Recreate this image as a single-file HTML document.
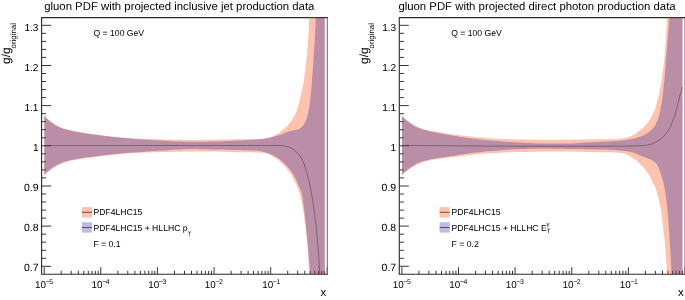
<!DOCTYPE html>
<html><head><meta charset="utf-8"><title>gluon PDF</title>
<style>
html,body{margin:0;padding:0;background:#fff;}
body{width:685px;height:300px;overflow:hidden;}
svg{display:block;font-family:"Liberation Sans",sans-serif;fill:#000;text-rendering:geometricPrecision;}
</style></head><body>
<svg width="685" height="300" viewBox="0 0 685 300">
<rect x="0" y="0" width="685" height="300" fill="#fff"/>
<g transform="translate(0.0,0)">
<path d="M41.6,266.3 h9.5 M41.6,258.3 h4.6 M41.6,250.3 h4.6 M41.6,242.2 h4.6 M41.6,234.2 h4.6 M41.6,226.1 h9.5 M41.6,218.1 h4.6 M41.6,210.1 h4.6 M41.6,202.0 h4.6 M41.6,194.0 h4.6 M41.6,186.0 h9.5 M41.6,177.9 h4.6 M41.6,169.9 h4.6 M41.6,161.9 h4.6 M41.6,153.8 h4.6 M41.6,145.8 h9.5 M41.6,137.8 h4.6 M41.6,129.7 h4.6 M41.6,121.7 h4.6 M41.6,113.7 h4.6 M41.6,105.6 h9.5 M41.6,97.6 h4.6 M41.6,89.6 h4.6 M41.6,81.5 h4.6 M41.6,73.5 h4.6 M41.6,65.5 h9.5 M41.6,57.4 h4.6 M41.6,49.4 h4.6 M41.6,41.4 h4.6 M41.6,33.3 h4.6 M41.6,25.3 h9.5 M44.2,274.2 v-7.0 M61.2,274.2 v-3.4 M71.2,274.2 v-3.4 M78.3,274.2 v-3.4 M83.8,274.2 v-3.4 M88.3,274.2 v-3.4 M92.0,274.2 v-3.4 M95.3,274.2 v-3.4 M98.2,274.2 v-3.4 M100.8,274.2 v-7.0 M117.9,274.2 v-3.4 M127.8,274.2 v-3.4 M134.9,274.2 v-3.4 M140.4,274.2 v-3.4 M144.9,274.2 v-3.4 M148.7,274.2 v-3.4 M152.0,274.2 v-3.4 M154.8,274.2 v-3.4 M157.4,274.2 v-7.0 M174.5,274.2 v-3.4 M184.5,274.2 v-3.4 M191.5,274.2 v-3.4 M197.0,274.2 v-3.4 M201.5,274.2 v-3.4 M205.3,274.2 v-3.4 M208.6,274.2 v-3.4 M211.5,274.2 v-3.4 M214.1,274.2 v-7.0 M231.1,274.2 v-3.4 M241.1,274.2 v-3.4 M248.1,274.2 v-3.4 M253.6,274.2 v-3.4 M258.1,274.2 v-3.4 M261.9,274.2 v-3.4 M265.2,274.2 v-3.4 M268.1,274.2 v-3.4 M270.7,274.2 v-7.0 M287.7,274.2 v-3.4 M297.7,274.2 v-3.4 M304.8,274.2 v-3.4 M310.3,274.2 v-3.4 M314.7,274.2 v-3.4 M318.5,274.2 v-3.4 M321.8,274.2 v-3.4 M324.7,274.2 v-3.4 M327.3,274.2 v-7.0" stroke="#2a2a2a" stroke-width="0.95" fill="none"/>
<path d="M41.6,17.6 V274.2 H327.3 M41.6,17.6 H327.3" fill="none" stroke="#2a2a2a" stroke-width="1.1" stroke-linecap="square"/>
<path d="M327.3,17.6 V274.2" fill="none" stroke="#666" stroke-width="1"/>
<path d="M44.2,115.4 L44.8,116.1 L45.4,116.8 L46.1,117.4 L46.7,118.0 L47.4,118.7 L48.1,119.3 L48.8,119.8 L49.5,120.4 L50.2,121.0 L50.9,121.5 L51.7,122.1 L52.4,122.6 L53.2,123.1 L53.9,123.6 L54.7,124.1 L55.5,124.6 L56.3,125.1 L57.1,125.6 L57.9,126.0 L58.7,126.4 L59.5,126.8 L60.3,127.1 L61.2,127.5 L62.0,127.8 L62.9,128.1 L63.7,128.4 L64.6,128.7 L65.5,129.0 L66.4,129.2 L67.2,129.5 L68.1,129.7 L69.0,129.9 L69.9,130.1 L70.8,130.3 L71.7,130.5 L72.6,130.7 L73.5,130.9 L74.4,131.1 L75.3,131.2 L76.2,131.4 L77.1,131.6 L78.0,131.7 L78.9,131.9 L79.8,132.0 L80.7,132.2 L81.6,132.3 L82.5,132.5 L83.4,132.6 L84.3,132.8 L85.2,132.9 L86.1,133.1 L87.0,133.2 L87.9,133.4 L88.8,133.5 L89.7,133.6 L90.6,133.7 L91.5,133.9 L92.4,134.0 L93.3,134.1 L94.2,134.3 L95.1,134.4 L96.0,134.5 L96.9,134.6 L97.8,134.7 L98.7,134.9 L99.6,135.0 L100.5,135.1 L101.4,135.2 L102.3,135.3 L103.2,135.4 L104.1,135.6 L105.0,135.7 L106.0,135.8 L106.9,135.9 L107.8,136.0 L108.7,136.1 L109.6,136.2 L110.5,136.3 L111.4,136.4 L112.3,136.5 L113.2,136.6 L114.1,136.7 L115.0,136.8 L115.9,136.9 L116.8,136.9 L117.7,137.0 L118.7,137.1 L119.6,137.2 L120.5,137.3 L121.4,137.4 L122.3,137.4 L123.2,137.5 L124.1,137.6 L125.0,137.7 L125.9,137.7 L126.8,137.8 L127.7,137.9 L128.7,138.0 L129.6,138.0 L130.5,138.1 L131.4,138.2 L132.3,138.2 L133.2,138.3 L134.1,138.4 L135.0,138.4 L135.9,138.5 L136.8,138.5 L137.8,138.6 L138.7,138.6 L139.6,138.7 L140.5,138.7 L141.4,138.8 L142.3,138.8 L143.2,138.8 L144.1,138.9 L145.0,138.9 L146.0,138.9 L146.9,139.0 L147.8,139.0 L148.7,139.0 L149.6,139.1 L150.5,139.1 L151.4,139.1 L152.3,139.2 L153.3,139.2 L154.2,139.2 L155.1,139.3 L156.0,139.3 L156.9,139.3 L157.8,139.3 L158.7,139.4 L159.6,139.4 L160.6,139.4 L161.5,139.4 L162.4,139.4 L163.3,139.5 L164.2,139.5 L165.1,139.5 L166.0,139.5 L166.9,139.5 L167.9,139.6 L168.8,139.6 L169.7,139.6 L170.6,139.6 L171.5,139.6 L172.4,139.7 L173.3,139.7 L174.2,139.7 L175.1,139.7 L176.1,139.7 L177.0,139.8 L177.9,139.8 L178.8,139.8 L179.7,139.8 L180.6,139.8 L181.5,139.8 L182.4,139.8 L183.4,139.9 L184.3,139.9 L185.2,139.9 L186.1,139.9 L187.0,139.9 L187.9,139.9 L188.8,139.9 L189.7,139.9 L190.7,139.9 L191.6,139.9 L192.5,139.9 L193.4,139.9 L194.3,139.9 L195.2,139.9 L196.1,139.9 L197.0,139.9 L198.0,139.9 L198.9,139.9 L199.8,139.9 L200.7,139.8 L201.6,139.8 L202.5,139.8 L203.4,139.8 L204.3,139.8 L205.3,139.8 L206.2,139.8 L207.1,139.8 L208.0,139.8 L208.9,139.7 L209.8,139.7 L210.7,139.7 L211.6,139.7 L212.6,139.7 L213.5,139.7 L214.4,139.7 L215.3,139.7 L216.2,139.7 L217.1,139.6 L218.0,139.6 L218.9,139.6 L219.9,139.6 L220.8,139.6 L221.7,139.5 L222.6,139.5 L223.5,139.5 L224.4,139.5 L225.3,139.5 L226.2,139.4 L227.2,139.4 L228.1,139.4 L229.0,139.4 L229.9,139.4 L230.8,139.3 L231.7,139.3 L232.6,139.3 L233.5,139.3 L234.4,139.3 L235.4,139.3 L236.3,139.2 L237.2,139.2 L238.1,139.2 L239.0,139.2 L239.9,139.2 L240.8,139.2 L241.7,139.2 L242.7,139.2 L243.6,139.2 L244.5,139.2 L245.4,139.2 L246.3,139.2 L247.2,139.2 L248.1,139.2 L249.1,139.2 L250.0,139.2 L250.9,139.1 L251.8,139.1 L252.7,139.1 L253.6,139.1 L254.5,139.1 L255.4,139.1 L256.3,139.1 L257.3,139.1 L258.2,139.1 L259.1,139.0 L260.0,138.9 L260.9,138.9 L261.8,138.8 L262.7,138.7 L263.6,138.5 L264.5,138.4 L265.4,138.3 L266.3,138.1 L267.2,138.0 L268.1,137.8 L269.0,137.6 L269.9,137.3 L270.8,137.1 L271.6,136.8 L272.5,136.4 L273.3,136.0 L274.1,135.6 L275.0,135.3 L275.8,134.8 L276.6,134.4 L277.4,134.0 L278.2,133.5 L278.9,133.0 L279.6,132.4 L280.3,131.8 L281.0,131.2 L281.7,130.7 L282.4,130.1 L283.2,129.5 L283.9,129.0 L284.6,128.4 L285.3,127.8 L286.0,127.2 L286.6,126.6 L287.2,125.9 L287.8,125.2 L288.4,124.5 L289.0,123.8 L289.6,123.1 L290.2,122.4 L290.8,121.7 L291.3,121.0 L291.8,120.2 L292.3,119.5 L292.8,118.7 L293.2,117.9 L293.7,117.1 L294.1,116.3 L294.5,115.5 L295.0,114.7 L295.4,113.8 L295.8,113.0 L296.1,112.2 L296.5,111.3 L296.8,110.5 L297.1,109.6 L297.4,108.8 L297.7,107.9 L298.0,107.0 L298.2,106.1 L298.5,105.3 L298.7,104.4 L298.9,103.5 L299.1,102.6 L299.4,101.7 L299.6,100.8 L299.8,100.0 L300.0,99.1 L300.2,98.2 L300.5,97.3 L300.7,96.4 L300.9,95.5 L301.1,94.6 L301.3,93.7 L301.5,92.9 L301.7,92.0 L301.9,91.1 L302.1,90.2 L302.3,89.3 L302.5,88.4 L302.7,87.5 L302.8,86.6 L303.0,85.7 L303.2,84.8 L303.3,83.9 L303.5,83.0 L303.6,82.1 L303.7,81.2 L303.9,80.3 L304.0,79.4 L304.2,78.5 L304.3,77.6 L304.4,76.7 L304.5,75.8 L304.7,74.9 L304.8,74.0 L304.9,73.1 L305.0,72.2 L305.2,71.3 L305.3,70.4 L305.4,69.5 L305.5,68.6 L305.6,67.7 L305.7,66.7 L305.8,65.8 L305.9,64.9 L306.0,64.0 L306.1,63.1 L306.2,62.2 L306.3,61.3 L306.4,60.4 L306.5,59.5 L306.6,58.6 L306.7,57.7 L306.7,56.8 L306.8,55.8 L306.9,54.9 L307.0,54.0 L307.0,53.1 L307.1,52.2 L307.2,51.3 L307.3,50.4 L307.3,49.5 L307.4,48.6 L307.5,47.7 L307.6,46.8 L307.6,45.9 L307.7,44.9 L307.8,44.0 L307.8,43.1 L307.9,42.2 L308.0,41.3 L308.0,40.4 L308.1,39.5 L308.2,38.6 L308.2,37.7 L308.3,36.8 L308.3,35.8 L308.4,34.9 L308.5,34.0 L308.5,33.1 L308.6,32.2 L308.6,31.3 L308.7,30.4 L308.7,29.5 L308.8,28.6 L308.8,27.6 L308.9,26.7 L308.9,25.8 L308.9,24.9 L309.0,24.0 L309.0,23.1 L309.1,22.2 L309.1,21.3 L309.1,20.3 L309.1,19.4 L309.2,18.5 L309.2,17.6 L324.8,17.6 L324.8,274.2 L309.3,274.2 L309.3,273.3 L309.2,272.4 L309.2,271.5 L309.1,270.6 L309.1,269.7 L309.1,268.8 L309.0,267.8 L309.0,266.9 L308.9,266.0 L308.9,265.1 L308.8,264.2 L308.7,263.3 L308.7,262.4 L308.6,261.5 L308.6,260.6 L308.5,259.7 L308.5,258.8 L308.4,257.9 L308.3,257.0 L308.3,256.1 L308.2,255.2 L308.1,254.2 L308.1,253.3 L308.0,252.4 L307.9,251.5 L307.8,250.6 L307.8,249.7 L307.7,248.8 L307.6,247.9 L307.5,247.0 L307.5,246.1 L307.4,245.2 L307.3,244.3 L307.2,243.4 L307.1,242.5 L307.0,241.6 L306.9,240.7 L306.8,239.8 L306.7,238.9 L306.6,238.0 L306.5,237.1 L306.4,236.2 L306.3,235.3 L306.2,234.4 L306.1,233.5 L306.0,232.6 L305.9,231.7 L305.8,230.8 L305.7,229.9 L305.6,228.9 L305.5,228.0 L305.4,227.1 L305.3,226.2 L305.2,225.3 L305.1,224.4 L305.0,223.5 L304.9,222.6 L304.7,221.7 L304.6,220.8 L304.5,219.9 L304.4,219.0 L304.3,218.1 L304.2,217.2 L304.1,216.3 L303.9,215.4 L303.8,214.5 L303.7,213.6 L303.6,212.7 L303.4,211.8 L303.3,210.9 L303.1,210.0 L303.0,209.1 L302.8,208.2 L302.7,207.3 L302.5,206.4 L302.4,205.6 L302.2,204.7 L302.0,203.8 L301.8,202.9 L301.7,202.0 L301.5,201.1 L301.3,200.2 L301.1,199.3 L300.9,198.4 L300.6,197.5 L300.4,196.7 L300.2,195.8 L300.0,194.9 L299.7,194.0 L299.5,193.2 L299.2,192.3 L298.9,191.4 L298.7,190.6 L298.4,189.7 L298.0,188.9 L297.7,188.0 L297.4,187.2 L297.1,186.3 L296.7,185.5 L296.3,184.6 L295.9,183.8 L295.5,183.0 L295.1,182.2 L294.6,181.4 L294.2,180.6 L293.8,179.8 L293.4,179.0 L293.0,178.2 L292.7,177.3 L292.3,176.5 L291.9,175.7 L291.4,174.9 L290.9,174.2 L290.3,173.5 L289.7,172.8 L289.2,172.1 L288.6,171.4 L288.1,170.6 L287.6,169.9 L287.1,169.1 L286.6,168.3 L286.1,167.6 L285.5,166.9 L284.8,166.3 L284.1,165.7 L283.4,165.1 L282.7,164.5 L282.0,163.9 L281.4,163.3 L280.8,162.6 L280.2,161.9 L279.6,161.2 L278.9,160.6 L278.2,160.0 L277.5,159.6 L276.7,159.1 L275.9,158.7 L275.1,158.2 L274.3,157.7 L273.6,157.2 L272.9,156.6 L272.1,156.1 L271.4,155.6 L270.6,155.2 L269.7,154.8 L268.9,154.4 L268.1,154.1 L267.2,153.8 L266.3,153.5 L265.5,153.3 L264.6,153.1 L263.7,153.0 L262.8,152.8 L261.9,152.7 L261.0,152.6 L260.1,152.6 L259.2,152.5 L258.2,152.4 L257.3,152.4 L256.4,152.4 L255.5,152.4 L254.6,152.4 L253.7,152.3 L252.8,152.3 L251.9,152.3 L251.0,152.3 L250.1,152.3 L249.2,152.3 L248.3,152.3 L247.4,152.3 L246.4,152.3 L245.5,152.3 L244.6,152.3 L243.7,152.2 L242.8,152.2 L241.9,152.2 L241.0,152.2 L240.1,152.2 L239.2,152.2 L238.3,152.2 L237.4,152.2 L236.4,152.1 L235.5,152.1 L234.6,152.1 L233.7,152.1 L232.8,152.0 L231.9,152.0 L231.0,152.0 L230.1,152.0 L229.2,151.9 L228.3,151.9 L227.4,151.9 L226.5,151.8 L225.6,151.8 L224.6,151.8 L223.7,151.8 L222.8,151.7 L221.9,151.7 L221.0,151.7 L220.1,151.7 L219.2,151.7 L218.3,151.6 L217.4,151.6 L216.5,151.6 L215.6,151.6 L214.7,151.6 L213.7,151.6 L212.8,151.6 L211.9,151.6 L211.0,151.6 L210.1,151.6 L209.2,151.6 L208.3,151.6 L207.4,151.6 L206.5,151.6 L205.6,151.6 L204.7,151.6 L203.8,151.6 L202.8,151.6 L201.9,151.6 L201.0,151.6 L200.1,151.6 L199.2,151.6 L198.3,151.6 L197.4,151.6 L196.5,151.6 L195.6,151.6 L194.7,151.6 L193.8,151.6 L192.9,151.6 L191.9,151.6 L191.0,151.6 L190.1,151.6 L189.2,151.6 L188.3,151.6 L187.4,151.6 L186.5,151.6 L185.6,151.6 L184.7,151.6 L183.8,151.6 L182.9,151.6 L182.0,151.7 L181.1,151.7 L180.1,151.7 L179.2,151.7 L178.3,151.7 L177.4,151.7 L176.5,151.8 L175.6,151.8 L174.7,151.8 L173.8,151.8 L172.9,151.8 L172.0,151.8 L171.1,151.9 L170.2,151.9 L169.2,151.9 L168.3,151.9 L167.4,151.9 L166.5,152.0 L165.6,152.0 L164.7,152.0 L163.8,152.0 L162.9,152.0 L162.0,152.1 L161.1,152.1 L160.2,152.1 L159.3,152.1 L158.3,152.2 L157.4,152.2 L156.5,152.2 L155.6,152.2 L154.7,152.3 L153.8,152.3 L152.9,152.3 L152.0,152.3 L151.1,152.4 L150.2,152.4 L149.3,152.4 L148.4,152.5 L147.5,152.5 L146.5,152.5 L145.6,152.6 L144.7,152.6 L143.8,152.6 L142.9,152.7 L142.0,152.7 L141.1,152.8 L140.2,152.8 L139.3,152.8 L138.4,152.9 L137.5,152.9 L136.6,153.0 L135.7,153.0 L134.7,153.1 L133.8,153.1 L132.9,153.2 L132.0,153.2 L131.1,153.3 L130.2,153.3 L129.3,153.4 L128.4,153.5 L127.5,153.5 L126.6,153.6 L125.7,153.7 L124.8,153.7 L123.9,153.8 L123.0,153.9 L122.1,154.0 L121.2,154.1 L120.3,154.1 L119.4,154.2 L118.5,154.3 L117.5,154.4 L116.6,154.5 L115.7,154.6 L114.8,154.7 L113.9,154.8 L113.0,154.9 L112.1,155.0 L111.2,155.1 L110.3,155.2 L109.4,155.3 L108.5,155.4 L107.6,155.5 L106.7,155.7 L105.8,155.8 L104.9,155.9 L104.0,156.0 L103.1,156.1 L102.2,156.2 L101.3,156.3 L100.4,156.4 L99.5,156.6 L98.6,156.7 L97.7,156.8 L96.8,156.9 L95.9,157.0 L95.0,157.1 L94.1,157.2 L93.2,157.3 L92.3,157.5 L91.4,157.6 L90.5,157.7 L89.6,157.8 L88.7,157.9 L87.8,158.0 L86.9,158.1 L86.0,158.2 L85.1,158.4 L84.2,158.5 L83.3,158.6 L82.4,158.7 L81.5,158.9 L80.6,159.0 L79.7,159.2 L78.8,159.3 L77.9,159.4 L77.0,159.6 L76.1,159.8 L75.2,159.9 L74.3,160.1 L73.4,160.2 L72.5,160.4 L71.6,160.6 L70.7,160.8 L69.8,161.0 L69.0,161.2 L68.1,161.4 L67.2,161.6 L66.3,161.9 L65.5,162.1 L64.6,162.4 L63.8,162.7 L62.9,163.0 L62.1,163.4 L61.2,163.7 L60.4,164.1 L59.6,164.5 L58.7,164.9 L57.9,165.3 L57.2,165.7 L56.4,166.2 L55.6,166.7 L54.8,167.1 L54.1,167.6 L53.3,168.1 L52.5,168.6 L51.8,169.2 L51.0,169.7 L50.2,170.2 L49.5,170.7 L48.8,171.2 L48.0,171.7 L47.3,172.3 L46.7,172.9 L46.0,173.5 L45.4,174.2 L44.8,174.9 L44.2,175.6Z" fill="rgba(255,102,51,0.4)"/>
<path d="M44.2,115.8 L44.8,116.5 L45.5,117.2 L46.1,117.9 L46.8,118.5 L47.5,119.2 L48.1,119.8 L48.8,120.4 L49.6,121.0 L50.3,121.7 L51.0,122.3 L51.8,122.8 L52.5,123.4 L53.3,123.9 L54.1,124.4 L54.9,124.9 L55.7,125.4 L56.5,125.8 L57.4,126.3 L58.3,126.7 L59.1,127.1 L60.0,127.4 L60.9,127.8 L61.7,128.1 L62.6,128.4 L63.5,128.7 L64.4,129.0 L65.3,129.2 L66.3,129.5 L67.2,129.7 L68.1,129.9 L69.0,130.1 L69.9,130.3 L70.8,130.6 L71.8,130.8 L72.7,131.0 L73.6,131.2 L74.5,131.4 L75.4,131.6 L76.4,131.8 L77.3,132.0 L78.2,132.2 L79.1,132.3 L80.1,132.5 L81.0,132.7 L81.9,132.8 L82.9,133.0 L83.8,133.2 L84.7,133.3 L85.6,133.5 L86.6,133.6 L87.5,133.7 L88.4,133.9 L89.4,134.0 L90.3,134.1 L91.2,134.2 L92.2,134.4 L93.1,134.5 L94.1,134.6 L95.0,134.7 L95.9,134.8 L96.9,135.0 L97.8,135.1 L98.7,135.2 L99.7,135.3 L100.6,135.4 L101.5,135.6 L102.5,135.7 L103.4,135.8 L104.3,135.9 L105.3,136.1 L106.2,136.2 L107.1,136.3 L108.1,136.4 L109.0,136.5 L110.0,136.6 L110.9,136.7 L111.8,136.8 L112.8,136.9 L113.7,137.0 L114.6,137.1 L115.6,137.2 L116.5,137.3 L117.5,137.4 L118.4,137.5 L119.3,137.6 L120.3,137.6 L121.2,137.7 L122.1,137.8 L123.1,137.9 L124.0,138.0 L125.0,138.0 L125.9,138.1 L126.8,138.2 L127.8,138.3 L128.7,138.4 L129.7,138.4 L130.6,138.5 L131.5,138.6 L132.5,138.7 L133.4,138.8 L134.4,138.9 L135.3,138.9 L136.2,139.0 L137.2,139.1 L138.1,139.2 L139.1,139.2 L140.0,139.3 L140.9,139.4 L141.9,139.4 L142.8,139.5 L143.8,139.6 L144.7,139.6 L145.6,139.7 L146.6,139.7 L147.5,139.8 L148.5,139.9 L149.4,139.9 L150.3,140.0 L151.3,140.0 L152.2,140.1 L153.2,140.2 L154.1,140.2 L155.1,140.3 L156.0,140.3 L156.9,140.4 L157.9,140.4 L158.8,140.5 L159.8,140.5 L160.7,140.6 L161.6,140.6 L162.6,140.7 L163.5,140.7 L164.5,140.8 L165.4,140.8 L166.3,140.9 L167.3,140.9 L168.2,141.0 L169.2,141.0 L170.1,141.1 L171.1,141.1 L172.0,141.2 L172.9,141.2 L173.9,141.3 L174.8,141.3 L175.8,141.4 L176.7,141.4 L177.6,141.5 L178.6,141.5 L179.5,141.5 L180.5,141.6 L181.4,141.6 L182.4,141.7 L183.3,141.7 L184.2,141.7 L185.2,141.7 L186.1,141.8 L187.1,141.8 L188.0,141.8 L189.0,141.8 L189.9,141.8 L190.8,141.8 L191.8,141.8 L192.7,141.8 L193.7,141.8 L194.6,141.8 L195.6,141.8 L196.5,141.8 L197.4,141.8 L198.4,141.8 L199.3,141.8 L200.3,141.8 L201.2,141.7 L202.2,141.7 L203.1,141.7 L204.0,141.7 L205.0,141.7 L205.9,141.7 L206.9,141.7 L207.8,141.7 L208.8,141.7 L209.7,141.6 L210.6,141.6 L211.6,141.6 L212.5,141.6 L213.5,141.6 L214.4,141.6 L215.3,141.6 L216.3,141.5 L217.2,141.5 L218.2,141.5 L219.1,141.4 L220.1,141.4 L221.0,141.3 L221.9,141.3 L222.9,141.2 L223.8,141.2 L224.8,141.2 L225.7,141.1 L226.7,141.1 L227.6,141.0 L228.5,141.0 L229.5,140.9 L230.4,140.9 L231.4,140.8 L232.3,140.8 L233.2,140.8 L234.2,140.7 L235.1,140.7 L236.1,140.6 L237.0,140.6 L238.0,140.5 L238.9,140.5 L239.8,140.4 L240.8,140.4 L241.7,140.4 L242.7,140.3 L243.6,140.3 L244.5,140.2 L245.5,140.2 L246.4,140.1 L247.4,140.1 L248.3,140.0 L249.2,140.0 L250.2,139.9 L251.1,139.9 L252.1,139.8 L253.0,139.7 L254.0,139.7 L254.9,139.6 L255.8,139.6 L256.8,139.5 L257.7,139.4 L258.7,139.4 L259.6,139.3 L260.5,139.2 L261.5,139.1 L262.4,139.0 L263.3,138.9 L264.3,138.8 L265.2,138.6 L266.1,138.5 L267.1,138.3 L268.0,138.2 L268.9,138.0 L269.8,137.8 L270.8,137.5 L271.7,137.3 L272.6,137.1 L273.5,136.8 L274.4,136.6 L275.3,136.3 L276.2,136.1 L277.1,135.8 L278.0,135.6 L278.9,135.3 L279.8,135.0 L280.7,134.7 L281.6,134.4 L282.5,134.0 L283.4,133.7 L284.2,133.3 L285.1,132.9 L286.0,132.5 L286.8,132.2 L287.7,131.8 L288.6,131.5 L289.5,131.3 L290.4,131.1 L291.4,130.9 L292.3,130.7 L293.2,130.5 L294.1,130.2 L295.1,130.0 L296.0,129.8 L296.9,129.6 L297.8,129.4 L298.7,129.1 L299.5,128.7 L300.3,128.2 L301.1,127.6 L301.8,126.9 L302.5,126.3 L303.0,125.6 L303.6,124.8 L304.1,124.0 L304.6,123.2 L305.0,122.3 L305.4,121.5 L305.8,120.6 L306.1,119.7 L306.5,118.8 L306.8,117.9 L307.1,117.0 L307.3,116.1 L307.6,115.2 L307.8,114.3 L308.0,113.4 L308.2,112.5 L308.4,111.5 L308.6,110.6 L308.8,109.7 L309.0,108.8 L309.1,107.8 L309.3,106.9 L309.4,106.0 L309.6,105.0 L309.7,104.1 L309.8,103.2 L309.9,102.2 L310.1,101.3 L310.2,100.4 L310.3,99.4 L310.4,98.5 L310.5,97.5 L310.6,96.6 L310.6,95.7 L310.7,94.7 L310.8,93.8 L310.9,92.9 L311.0,91.9 L311.1,91.0 L311.2,90.0 L311.3,89.1 L311.4,88.2 L311.4,87.2 L311.5,86.3 L311.6,85.4 L311.7,84.4 L311.8,83.5 L311.8,82.5 L311.9,81.6 L312.0,80.7 L312.1,79.7 L312.1,78.8 L312.2,77.8 L312.3,76.9 L312.3,76.0 L312.4,75.0 L312.5,74.1 L312.5,73.1 L312.6,72.2 L312.7,71.2 L312.7,70.3 L312.8,69.4 L312.9,68.4 L312.9,67.5 L313.0,66.5 L313.1,65.6 L313.1,64.7 L313.2,63.7 L313.3,62.8 L313.3,61.8 L313.4,60.9 L313.4,60.0 L313.5,59.0 L313.6,58.1 L313.6,57.1 L313.7,56.2 L313.7,55.3 L313.8,54.3 L313.9,53.4 L313.9,52.4 L314.0,51.5 L314.0,50.5 L314.1,49.6 L314.2,48.7 L314.2,47.7 L314.3,46.8 L314.3,45.8 L314.4,44.9 L314.4,44.0 L314.5,43.0 L314.6,42.1 L314.6,41.1 L314.7,40.2 L314.7,39.3 L314.8,38.3 L314.8,37.4 L314.9,36.4 L314.9,35.5 L315.0,34.6 L315.0,33.6 L315.1,32.7 L315.1,31.7 L315.2,30.8 L315.2,29.8 L315.3,28.9 L315.3,28.0 L315.4,27.0 L315.4,26.1 L315.5,25.1 L315.5,24.2 L315.5,23.3 L315.6,22.3 L315.6,21.4 L315.7,20.4 L315.7,19.5 L315.8,18.5 L315.8,17.6 L324.8,17.6 L324.8,274.2 L310.0,274.2 L309.9,273.3 L309.9,272.4 L309.8,271.5 L309.8,270.6 L309.7,269.6 L309.6,268.7 L309.6,267.8 L309.5,266.9 L309.5,266.0 L309.4,265.1 L309.3,264.2 L309.3,263.3 L309.2,262.3 L309.1,261.4 L309.1,260.5 L309.0,259.6 L308.9,258.7 L308.8,257.8 L308.8,256.9 L308.7,256.0 L308.6,255.1 L308.6,254.1 L308.5,253.2 L308.4,252.3 L308.3,251.4 L308.3,250.5 L308.2,249.6 L308.1,248.7 L308.0,247.8 L307.9,246.9 L307.9,245.9 L307.8,245.0 L307.7,244.1 L307.6,243.2 L307.5,242.3 L307.5,241.4 L307.4,240.5 L307.3,239.6 L307.2,238.7 L307.1,237.8 L307.0,236.8 L307.0,235.9 L306.9,235.0 L306.8,234.1 L306.7,233.2 L306.6,232.3 L306.5,231.4 L306.4,230.5 L306.4,229.6 L306.3,228.7 L306.2,227.7 L306.1,226.8 L306.0,225.9 L305.9,225.0 L305.8,224.1 L305.7,223.2 L305.6,222.3 L305.5,221.4 L305.4,220.5 L305.3,219.6 L305.2,218.7 L305.1,217.8 L305.0,216.8 L304.9,215.9 L304.8,215.0 L304.7,214.1 L304.6,213.2 L304.5,212.3 L304.4,211.4 L304.3,210.5 L304.1,209.6 L304.0,208.7 L303.9,207.8 L303.8,206.9 L303.7,205.9 L303.6,205.0 L303.5,204.1 L303.4,203.2 L303.2,202.3 L303.1,201.4 L303.0,200.5 L302.9,199.6 L302.7,198.6 L302.6,197.7 L302.4,196.9 L302.3,196.0 L302.1,195.1 L301.9,194.2 L301.7,193.3 L301.5,192.5 L301.2,191.6 L300.9,190.7 L300.5,189.9 L300.2,189.0 L299.8,188.2 L299.4,187.4 L299.0,186.5 L298.6,185.7 L298.2,184.9 L297.9,184.0 L297.5,183.2 L297.2,182.3 L296.8,181.5 L296.4,180.6 L296.1,179.8 L295.7,179.0 L295.3,178.1 L294.9,177.3 L294.5,176.5 L294.1,175.7 L293.6,174.9 L293.2,174.1 L292.7,173.4 L292.2,172.6 L291.6,171.9 L291.1,171.1 L290.5,170.4 L289.9,169.7 L289.4,169.0 L288.8,168.3 L288.2,167.6 L287.6,166.9 L287.0,166.2 L286.4,165.5 L285.7,164.8 L285.1,164.2 L284.5,163.5 L283.8,162.9 L283.1,162.3 L282.5,161.7 L281.8,161.1 L281.1,160.5 L280.4,159.9 L279.6,159.4 L278.9,158.8 L278.1,158.3 L277.4,157.7 L276.6,157.3 L275.8,156.8 L275.0,156.3 L274.3,155.9 L273.4,155.5 L272.6,155.1 L271.8,154.7 L270.9,154.3 L270.1,154.0 L269.2,153.6 L268.4,153.3 L267.5,153.0 L266.7,152.7 L265.8,152.5 L264.9,152.2 L264.0,151.9 L263.1,151.7 L262.2,151.5 L261.4,151.3 L260.5,151.2 L259.6,151.0 L258.6,150.9 L257.7,150.8 L256.8,150.6 L255.9,150.6 L255.0,150.5 L254.1,150.5 L253.2,150.4 L252.3,150.4 L251.4,150.4 L250.4,150.3 L249.5,150.3 L248.6,150.3 L247.7,150.3 L246.8,150.2 L245.9,150.2 L245.0,150.2 L244.0,150.2 L243.1,150.2 L242.2,150.2 L241.3,150.1 L240.4,150.1 L239.5,150.1 L238.6,150.1 L237.6,150.0 L236.7,150.0 L235.8,150.0 L234.9,150.0 L234.0,149.9 L233.1,149.9 L232.2,149.9 L231.3,149.9 L230.3,149.8 L229.4,149.8 L228.5,149.8 L227.6,149.8 L226.7,149.7 L225.8,149.7 L224.9,149.7 L223.9,149.6 L223.0,149.6 L222.1,149.6 L221.2,149.6 L220.3,149.6 L219.4,149.5 L218.5,149.5 L217.6,149.5 L216.6,149.5 L215.7,149.5 L214.8,149.4 L213.9,149.4 L213.0,149.4 L212.1,149.4 L211.2,149.4 L210.2,149.4 L209.3,149.3 L208.4,149.3 L207.5,149.3 L206.6,149.3 L205.7,149.3 L204.8,149.3 L203.8,149.2 L202.9,149.2 L202.0,149.2 L201.1,149.2 L200.2,149.2 L199.3,149.2 L198.4,149.2 L197.4,149.1 L196.5,149.1 L195.6,149.1 L194.7,149.1 L193.8,149.1 L192.9,149.1 L192.0,149.1 L191.1,149.1 L190.1,149.1 L189.2,149.1 L188.3,149.1 L187.4,149.1 L186.5,149.1 L185.6,149.2 L184.7,149.2 L183.7,149.2 L182.8,149.3 L181.9,149.3 L181.0,149.3 L180.1,149.4 L179.2,149.4 L178.3,149.5 L177.4,149.5 L176.4,149.6 L175.5,149.6 L174.6,149.7 L173.7,149.8 L172.8,149.8 L171.9,149.9 L171.0,149.9 L170.1,150.0 L169.1,150.0 L168.2,150.1 L167.3,150.2 L166.4,150.2 L165.5,150.3 L164.6,150.3 L163.7,150.4 L162.8,150.4 L161.8,150.5 L160.9,150.6 L160.0,150.6 L159.1,150.7 L158.2,150.7 L157.3,150.8 L156.4,150.9 L155.5,150.9 L154.5,151.0 L153.6,151.1 L152.7,151.1 L151.8,151.2 L150.9,151.3 L150.0,151.3 L149.1,151.4 L148.2,151.5 L147.3,151.5 L146.3,151.6 L145.4,151.7 L144.5,151.7 L143.6,151.8 L142.7,151.9 L141.8,151.9 L140.9,152.0 L140.0,152.1 L139.1,152.1 L138.1,152.2 L137.2,152.2 L136.3,152.3 L135.4,152.3 L134.5,152.4 L133.6,152.4 L132.7,152.5 L131.8,152.5 L130.8,152.6 L129.9,152.7 L129.0,152.7 L128.1,152.8 L127.2,152.8 L126.3,152.9 L125.4,153.0 L124.5,153.1 L123.6,153.1 L122.6,153.2 L121.7,153.3 L120.8,153.4 L119.9,153.5 L119.0,153.6 L118.1,153.7 L117.2,153.8 L116.3,153.9 L115.4,154.0 L114.5,154.1 L113.5,154.1 L112.6,154.2 L111.7,154.3 L110.8,154.4 L109.9,154.5 L109.0,154.7 L108.1,154.8 L107.2,154.9 L106.3,155.0 L105.4,155.1 L104.5,155.2 L103.6,155.3 L102.7,155.4 L101.7,155.5 L100.8,155.7 L99.9,155.8 L99.0,155.9 L98.1,156.0 L97.2,156.1 L96.3,156.2 L95.4,156.3 L94.5,156.4 L93.6,156.5 L92.7,156.6 L91.8,156.8 L90.9,156.9 L90.0,157.0 L89.0,157.1 L88.1,157.2 L87.2,157.3 L86.3,157.5 L85.4,157.6 L84.5,157.7 L83.6,157.9 L82.7,158.0 L81.8,158.1 L80.9,158.3 L80.0,158.4 L79.1,158.6 L78.2,158.7 L77.3,158.9 L76.4,159.0 L75.5,159.2 L74.6,159.4 L73.7,159.6 L72.8,159.7 L71.9,159.9 L71.0,160.1 L70.1,160.3 L69.2,160.5 L68.4,160.8 L67.5,161.0 L66.6,161.2 L65.7,161.5 L64.8,161.8 L64.0,162.1 L63.1,162.4 L62.3,162.7 L61.4,163.0 L60.6,163.4 L59.7,163.8 L58.9,164.2 L58.1,164.6 L57.3,165.0 L56.5,165.4 L55.7,165.9 L54.9,166.3 L54.1,166.8 L53.3,167.2 L52.5,167.7 L51.8,168.3 L51.0,168.8 L50.3,169.3 L49.6,169.9 L48.9,170.5 L48.2,171.0 L47.5,171.6 L46.8,172.2 L46.1,172.9 L45.5,173.5 L44.8,174.2 L44.2,174.8Z" fill="rgba(0,0,153,0.267)"/>
<path d="M44.2,145.5 L45.5,145.5 L46.7,145.5 L48.0,145.5 L49.3,145.5 L50.6,145.5 L51.8,145.5 L53.1,145.5 L54.4,145.5 L55.6,145.5 L56.9,145.5 L58.2,145.5 L59.4,145.5 L60.7,145.5 L62.0,145.5 L63.3,145.5 L64.5,145.5 L65.8,145.5 L67.1,145.5 L68.3,145.5 L69.6,145.5 L70.9,145.5 L72.1,145.5 L73.4,145.5 L74.7,145.5 L76.0,145.5 L77.2,145.5 L78.5,145.5 L79.8,145.5 L81.0,145.5 L82.3,145.5 L83.6,145.5 L84.8,145.5 L86.1,145.5 L87.4,145.5 L88.7,145.5 L89.9,145.5 L91.2,145.5 L92.5,145.5 L93.7,145.5 L95.0,145.5 L96.3,145.5 L97.5,145.5 L98.8,145.5 L100.1,145.5 L101.4,145.5 L102.6,145.5 L103.9,145.5 L105.2,145.5 L106.4,145.5 L107.7,145.5 L109.0,145.5 L110.2,145.5 L111.5,145.5 L112.8,145.5 L114.1,145.5 L115.3,145.5 L116.6,145.5 L117.9,145.5 L119.1,145.5 L120.4,145.5 L121.7,145.5 L123.0,145.5 L124.2,145.5 L125.5,145.5 L126.8,145.5 L128.0,145.5 L129.3,145.5 L130.6,145.5 L131.8,145.5 L133.1,145.5 L134.4,145.5 L135.7,145.5 L136.9,145.5 L138.2,145.5 L139.5,145.5 L140.7,145.5 L142.0,145.5 L143.3,145.5 L144.5,145.5 L145.8,145.5 L147.1,145.5 L148.4,145.5 L149.6,145.5 L150.9,145.5 L152.2,145.5 L153.4,145.5 L154.7,145.5 L156.0,145.5 L157.2,145.5 L158.5,145.5 L159.8,145.5 L161.1,145.5 L162.3,145.5 L163.6,145.5 L164.9,145.5 L166.1,145.5 L167.4,145.5 L168.7,145.5 L169.9,145.5 L171.2,145.5 L172.5,145.5 L173.8,145.5 L175.0,145.5 L176.3,145.5 L177.6,145.5 L178.8,145.5 L180.1,145.5 L181.4,145.5 L182.7,145.5 L183.9,145.5 L185.2,145.5 L186.5,145.5 L187.7,145.5 L189.0,145.5 L190.3,145.5 L191.5,145.5 L192.8,145.5 L194.1,145.5 L195.4,145.5 L196.6,145.5 L197.9,145.5 L199.2,145.5 L200.4,145.5 L201.7,145.5 L203.0,145.5 L204.2,145.5 L205.5,145.5 L206.8,145.5 L208.1,145.5 L209.3,145.5 L210.6,145.5 L211.9,145.5 L213.1,145.5 L214.4,145.5 L215.7,145.5 L217.0,145.5 L218.2,145.5 L219.5,145.5 L220.8,145.5 L222.0,145.5 L223.3,145.5 L224.6,145.5 L225.8,145.5 L227.1,145.5 L228.4,145.5 L229.7,145.5 L230.9,145.5 L232.2,145.5 L233.5,145.5 L234.7,145.5 L236.0,145.5 L237.3,145.5 L238.5,145.5 L239.8,145.5 L241.1,145.5 L242.4,145.5 L243.6,145.5 L244.9,145.5 L246.2,145.5 L247.4,145.5 L248.7,145.5 L250.0,145.5 L251.2,145.5 L252.5,145.5 L253.8,145.5 L255.1,145.5 L256.3,145.5 L257.6,145.5 L258.9,145.5 L260.1,145.5 L261.4,145.5 L262.7,145.5 L263.9,145.5 L265.2,145.5 L266.5,145.5 L267.8,145.5 L269.0,145.5 L270.3,145.5 L271.6,145.5 L272.8,145.5 L274.1,145.5 L275.4,145.5 L276.6,145.5 L277.9,145.6 L279.2,145.6 L280.5,145.7 L281.7,145.7 L283.0,145.8 L284.3,146.0 L285.5,146.2 L286.8,146.5 L288.0,146.8 L289.2,147.2 L290.3,147.6 L291.5,148.2 L292.6,148.9 L293.7,149.7 L294.7,150.4 L295.6,151.2 L296.6,152.1 L297.5,153.0 L298.3,154.0 L299.1,155.0 L299.9,156.0 L300.6,157.0 L301.3,158.1 L301.9,159.2 L302.5,160.4 L303.1,161.5 L303.6,162.6 L304.0,163.8 L304.4,165.0 L304.8,166.2 L305.2,167.4 L305.6,168.7 L305.9,169.9 L306.3,171.1 L306.7,172.3 L307.0,173.5 L307.4,174.8 L307.8,176.0 L308.1,177.2 L308.4,178.4 L308.7,179.7 L309.0,180.9 L309.3,182.1 L309.5,183.4 L309.8,184.6 L310.1,185.9 L310.3,187.1 L310.5,188.4 L310.8,189.6 L311.0,190.9 L311.2,192.1 L311.4,193.4 L311.6,194.6 L311.9,195.9 L312.1,197.1 L312.3,198.4 L312.5,199.6 L312.7,200.9 L312.9,202.1 L313.1,203.4 L313.3,204.7 L313.5,205.9 L313.6,207.2 L313.8,208.4 L314.0,209.7 L314.2,210.9 L314.4,212.2 L314.5,213.5 L314.7,214.7 L314.9,216.0 L315.0,217.2 L315.2,218.5 L315.3,219.8 L315.5,221.0 L315.7,222.3 L315.8,223.5 L316.0,224.8 L316.1,226.1 L316.2,227.3 L316.4,228.6 L316.5,229.9 L316.6,231.1 L316.7,232.4 L316.8,233.7 L317.0,234.9 L317.1,236.2 L317.2,237.4 L317.3,238.7 L317.4,240.0 L317.5,241.2 L317.6,242.5 L317.7,243.8 L317.8,245.0 L317.9,246.3 L318.1,247.6 L318.2,248.8 L318.3,250.1 L318.4,251.4 L318.4,252.6 L318.5,253.9 L318.6,255.2 L318.7,256.4 L318.8,257.7 L318.9,259.0 L319.0,260.2 L319.1,261.5 L319.1,262.8 L319.2,264.0 L319.3,265.3 L319.3,266.6 L319.4,267.8 L319.5,269.1 L319.5,270.4 L319.6,271.7 L319.6,272.9 L319.7,274.2" fill="none" stroke="#222" stroke-width="0.7" stroke-opacity="0.6"/>
<text x="179.3" y="9.9" font-size="11.36" text-anchor="middle">gluon PDF with projected inclusive jet production data</text>
<text transform="translate(9.8,64) rotate(-90)" font-size="12">g/g</text>
<text transform="translate(15.9,48.5) rotate(-90)" font-size="7.9">original</text>
<text x="38.5" y="31" font-size="10.1" text-anchor="end">1.3</text>
<text x="38.5" y="71" font-size="10.1" text-anchor="end">1.2</text>
<text x="38.5" y="111" font-size="10.1" text-anchor="end">1.1</text>
<text x="38.5" y="151" font-size="10.1" text-anchor="end">1</text>
<text x="38.5" y="191" font-size="10.5" text-anchor="end">0.9</text>
<text x="38.5" y="231" font-size="10.5" text-anchor="end">0.8</text>
<text x="38.5" y="271" font-size="10.5" text-anchor="end">0.7</text>
<text x="44.0" y="288.4" font-size="9.9" text-anchor="middle">10<tspan font-size="6.8" dx="-0.3" dy="-4.5" letter-spacing="-0.4" stroke="#000" stroke-width="0.2">−</tspan><tspan font-size="6.9" letter-spacing="0">5</tspan></text>
<text x="100.6" y="288.4" font-size="9.9" text-anchor="middle">10<tspan font-size="6.8" dx="-0.3" dy="-4.5" letter-spacing="-0.4" stroke="#000" stroke-width="0.2">−</tspan><tspan font-size="6.9" letter-spacing="0">4</tspan></text>
<text x="157.2" y="288.4" font-size="9.9" text-anchor="middle">10<tspan font-size="6.8" dx="-0.3" dy="-4.5" letter-spacing="-0.4" stroke="#000" stroke-width="0.2">−</tspan><tspan font-size="6.9" letter-spacing="0">3</tspan></text>
<text x="213.9" y="288.4" font-size="9.9" text-anchor="middle">10<tspan font-size="6.8" dx="-0.3" dy="-4.5" letter-spacing="-0.4" stroke="#000" stroke-width="0.2">−</tspan><tspan font-size="6.9" letter-spacing="0">2</tspan></text>
<text x="271.2" y="288.4" font-size="9.9" text-anchor="middle">10<tspan font-size="6.8" dx="-0.3" dy="-4.5" letter-spacing="-0.4" stroke="#000" stroke-width="0.2">−</tspan><tspan font-size="6.9" letter-spacing="0">1</tspan></text>
<text x="320.4" y="296.3" font-size="11.4">x</text>
<text x="93.5" y="35.8" font-size="8.65">Q = 100 GeV</text>
<rect x="81.9" y="207.1" width="10.1" height="10.4" fill="rgba(255,102,51,0.4)"/>
<rect x="81.9" y="222.2" width="10.1" height="10.4" fill="rgba(0,0,153,0.267)"/>
<path d="M81.9,212.3 h10.1 M81.9,227.5 h10.1" stroke="#222" stroke-width="0.7"/>
<text x="93.4" y="215.2" font-size="8.65">PDF4LHC15</text>
<text x="93.4" y="230.6" font-size="8.65">PDF4LHC15 + HLLHC p<tspan font-size="6.2" dy="5.2">T</tspan></text>
<text x="93.4" y="246.5" font-size="8.65">F = 0.1</text>
</g>
<g transform="translate(357.7,0)">
<path d="M41.6,266.3 h9.5 M41.6,258.3 h4.6 M41.6,250.3 h4.6 M41.6,242.2 h4.6 M41.6,234.2 h4.6 M41.6,226.1 h9.5 M41.6,218.1 h4.6 M41.6,210.1 h4.6 M41.6,202.0 h4.6 M41.6,194.0 h4.6 M41.6,186.0 h9.5 M41.6,177.9 h4.6 M41.6,169.9 h4.6 M41.6,161.9 h4.6 M41.6,153.8 h4.6 M41.6,145.8 h9.5 M41.6,137.8 h4.6 M41.6,129.7 h4.6 M41.6,121.7 h4.6 M41.6,113.7 h4.6 M41.6,105.6 h9.5 M41.6,97.6 h4.6 M41.6,89.6 h4.6 M41.6,81.5 h4.6 M41.6,73.5 h4.6 M41.6,65.5 h9.5 M41.6,57.4 h4.6 M41.6,49.4 h4.6 M41.6,41.4 h4.6 M41.6,33.3 h4.6 M41.6,25.3 h9.5 M44.2,274.2 v-7.0 M61.2,274.2 v-3.4 M71.2,274.2 v-3.4 M78.3,274.2 v-3.4 M83.8,274.2 v-3.4 M88.3,274.2 v-3.4 M92.0,274.2 v-3.4 M95.3,274.2 v-3.4 M98.2,274.2 v-3.4 M100.8,274.2 v-7.0 M117.9,274.2 v-3.4 M127.8,274.2 v-3.4 M134.9,274.2 v-3.4 M140.4,274.2 v-3.4 M144.9,274.2 v-3.4 M148.7,274.2 v-3.4 M152.0,274.2 v-3.4 M154.8,274.2 v-3.4 M157.4,274.2 v-7.0 M174.5,274.2 v-3.4 M184.5,274.2 v-3.4 M191.5,274.2 v-3.4 M197.0,274.2 v-3.4 M201.5,274.2 v-3.4 M205.3,274.2 v-3.4 M208.6,274.2 v-3.4 M211.5,274.2 v-3.4 M214.1,274.2 v-7.0 M231.1,274.2 v-3.4 M241.1,274.2 v-3.4 M248.1,274.2 v-3.4 M253.6,274.2 v-3.4 M258.1,274.2 v-3.4 M261.9,274.2 v-3.4 M265.2,274.2 v-3.4 M268.1,274.2 v-3.4 M270.7,274.2 v-7.0 M287.7,274.2 v-3.4 M297.7,274.2 v-3.4 M304.8,274.2 v-3.4 M310.3,274.2 v-3.4 M314.7,274.2 v-3.4 M318.5,274.2 v-3.4 M321.8,274.2 v-3.4 M324.7,274.2 v-3.4 M327.3,274.2 v-7.0" stroke="#2a2a2a" stroke-width="0.95" fill="none"/>
<path d="M41.6,17.6 V274.2 H327.3 M41.6,17.6 H327.3" fill="none" stroke="#2a2a2a" stroke-width="1.1" stroke-linecap="square"/>
<path d="M327.3,17.6 V274.2" fill="none" stroke="#666" stroke-width="1"/>
<path d="M44.2,115.4 L44.8,116.1 L45.4,116.8 L46.1,117.4 L46.7,118.0 L47.4,118.7 L48.1,119.3 L48.8,119.8 L49.5,120.4 L50.2,121.0 L50.9,121.5 L51.7,122.1 L52.4,122.6 L53.2,123.1 L53.9,123.6 L54.7,124.1 L55.5,124.6 L56.3,125.1 L57.1,125.6 L57.9,126.0 L58.7,126.4 L59.5,126.8 L60.3,127.1 L61.2,127.5 L62.0,127.8 L62.9,128.1 L63.7,128.4 L64.6,128.7 L65.5,129.0 L66.4,129.2 L67.2,129.5 L68.1,129.7 L69.0,129.9 L69.9,130.1 L70.8,130.3 L71.7,130.5 L72.6,130.7 L73.5,130.9 L74.4,131.1 L75.3,131.2 L76.2,131.4 L77.1,131.6 L78.0,131.7 L78.9,131.9 L79.8,132.0 L80.7,132.2 L81.6,132.3 L82.5,132.5 L83.4,132.6 L84.3,132.8 L85.2,132.9 L86.1,133.1 L87.0,133.2 L87.9,133.4 L88.8,133.5 L89.7,133.6 L90.6,133.7 L91.5,133.9 L92.4,134.0 L93.3,134.1 L94.2,134.3 L95.1,134.4 L96.0,134.5 L96.9,134.6 L97.8,134.7 L98.7,134.9 L99.6,135.0 L100.5,135.1 L101.4,135.2 L102.3,135.3 L103.2,135.4 L104.1,135.6 L105.0,135.7 L106.0,135.8 L106.9,135.9 L107.8,136.0 L108.7,136.1 L109.6,136.2 L110.5,136.3 L111.4,136.4 L112.3,136.5 L113.2,136.6 L114.1,136.7 L115.0,136.8 L115.9,136.9 L116.8,136.9 L117.7,137.0 L118.7,137.1 L119.6,137.2 L120.5,137.3 L121.4,137.4 L122.3,137.4 L123.2,137.5 L124.1,137.6 L125.0,137.7 L125.9,137.7 L126.8,137.8 L127.7,137.9 L128.7,138.0 L129.6,138.0 L130.5,138.1 L131.4,138.2 L132.3,138.2 L133.2,138.3 L134.1,138.4 L135.0,138.4 L135.9,138.5 L136.8,138.5 L137.8,138.6 L138.7,138.6 L139.6,138.7 L140.5,138.7 L141.4,138.8 L142.3,138.8 L143.2,138.8 L144.1,138.9 L145.0,138.9 L146.0,138.9 L146.9,139.0 L147.8,139.0 L148.7,139.0 L149.6,139.1 L150.5,139.1 L151.4,139.1 L152.3,139.2 L153.3,139.2 L154.2,139.2 L155.1,139.3 L156.0,139.3 L156.9,139.3 L157.8,139.3 L158.7,139.4 L159.6,139.4 L160.6,139.4 L161.5,139.4 L162.4,139.4 L163.3,139.5 L164.2,139.5 L165.1,139.5 L166.0,139.5 L166.9,139.5 L167.9,139.6 L168.8,139.6 L169.7,139.6 L170.6,139.6 L171.5,139.6 L172.4,139.7 L173.3,139.7 L174.2,139.7 L175.1,139.7 L176.1,139.7 L177.0,139.8 L177.9,139.8 L178.8,139.8 L179.7,139.8 L180.6,139.8 L181.5,139.8 L182.4,139.8 L183.4,139.9 L184.3,139.9 L185.2,139.9 L186.1,139.9 L187.0,139.9 L187.9,139.9 L188.8,139.9 L189.7,139.9 L190.7,139.9 L191.6,139.9 L192.5,139.9 L193.4,139.9 L194.3,139.9 L195.2,139.9 L196.1,139.9 L197.0,139.9 L198.0,139.9 L198.9,139.9 L199.8,139.9 L200.7,139.8 L201.6,139.8 L202.5,139.8 L203.4,139.8 L204.3,139.8 L205.3,139.8 L206.2,139.8 L207.1,139.8 L208.0,139.8 L208.9,139.7 L209.8,139.7 L210.7,139.7 L211.6,139.7 L212.6,139.7 L213.5,139.7 L214.4,139.7 L215.3,139.7 L216.2,139.7 L217.1,139.6 L218.0,139.6 L218.9,139.6 L219.9,139.6 L220.8,139.6 L221.7,139.5 L222.6,139.5 L223.5,139.5 L224.4,139.5 L225.3,139.5 L226.2,139.4 L227.2,139.4 L228.1,139.4 L229.0,139.4 L229.9,139.4 L230.8,139.3 L231.7,139.3 L232.6,139.3 L233.5,139.3 L234.4,139.3 L235.4,139.3 L236.3,139.2 L237.2,139.2 L238.1,139.2 L239.0,139.2 L239.9,139.2 L240.8,139.2 L241.7,139.2 L242.7,139.2 L243.6,139.2 L244.5,139.2 L245.4,139.2 L246.3,139.2 L247.2,139.2 L248.1,139.2 L249.1,139.2 L250.0,139.2 L250.9,139.1 L251.8,139.1 L252.7,139.1 L253.6,139.1 L254.5,139.1 L255.4,139.1 L256.3,139.1 L257.3,139.1 L258.2,139.1 L259.1,139.0 L260.0,138.9 L260.9,138.9 L261.8,138.8 L262.7,138.7 L263.6,138.5 L264.5,138.4 L265.4,138.3 L266.3,138.1 L267.2,138.0 L268.1,137.8 L269.0,137.6 L269.9,137.3 L270.8,137.1 L271.6,136.8 L272.5,136.4 L273.3,136.0 L274.1,135.6 L275.0,135.3 L275.8,134.8 L276.6,134.4 L277.4,134.0 L278.2,133.5 L278.9,133.0 L279.6,132.4 L280.3,131.8 L281.0,131.2 L281.7,130.7 L282.4,130.1 L283.2,129.5 L283.9,129.0 L284.6,128.4 L285.3,127.8 L286.0,127.2 L286.6,126.6 L287.2,125.9 L287.8,125.2 L288.4,124.5 L289.0,123.8 L289.6,123.1 L290.2,122.4 L290.8,121.7 L291.3,121.0 L291.8,120.2 L292.3,119.5 L292.8,118.7 L293.2,117.9 L293.7,117.1 L294.1,116.3 L294.5,115.5 L295.0,114.7 L295.4,113.8 L295.8,113.0 L296.1,112.2 L296.5,111.3 L296.8,110.5 L297.1,109.6 L297.4,108.8 L297.7,107.9 L298.0,107.0 L298.2,106.1 L298.5,105.3 L298.7,104.4 L298.9,103.5 L299.1,102.6 L299.4,101.7 L299.6,100.8 L299.8,100.0 L300.0,99.1 L300.2,98.2 L300.5,97.3 L300.7,96.4 L300.9,95.5 L301.1,94.6 L301.3,93.7 L301.5,92.9 L301.7,92.0 L301.9,91.1 L302.1,90.2 L302.3,89.3 L302.5,88.4 L302.7,87.5 L302.8,86.6 L303.0,85.7 L303.2,84.8 L303.3,83.9 L303.5,83.0 L303.6,82.1 L303.7,81.2 L303.9,80.3 L304.0,79.4 L304.2,78.5 L304.3,77.6 L304.4,76.7 L304.5,75.8 L304.7,74.9 L304.8,74.0 L304.9,73.1 L305.0,72.2 L305.2,71.3 L305.3,70.4 L305.4,69.5 L305.5,68.6 L305.6,67.7 L305.7,66.7 L305.8,65.8 L305.9,64.9 L306.0,64.0 L306.1,63.1 L306.2,62.2 L306.3,61.3 L306.4,60.4 L306.5,59.5 L306.6,58.6 L306.7,57.7 L306.7,56.8 L306.8,55.8 L306.9,54.9 L307.0,54.0 L307.0,53.1 L307.1,52.2 L307.2,51.3 L307.3,50.4 L307.3,49.5 L307.4,48.6 L307.5,47.7 L307.6,46.8 L307.6,45.9 L307.7,44.9 L307.8,44.0 L307.8,43.1 L307.9,42.2 L308.0,41.3 L308.0,40.4 L308.1,39.5 L308.2,38.6 L308.2,37.7 L308.3,36.8 L308.3,35.8 L308.4,34.9 L308.5,34.0 L308.5,33.1 L308.6,32.2 L308.6,31.3 L308.7,30.4 L308.7,29.5 L308.8,28.6 L308.8,27.6 L308.9,26.7 L308.9,25.8 L308.9,24.9 L309.0,24.0 L309.0,23.1 L309.1,22.2 L309.1,21.3 L309.1,20.3 L309.1,19.4 L309.2,18.5 L309.2,17.6 L324.8,17.6 L324.8,274.2 L309.3,274.2 L309.3,273.3 L309.2,272.4 L309.2,271.5 L309.1,270.6 L309.1,269.7 L309.1,268.8 L309.0,267.8 L309.0,266.9 L308.9,266.0 L308.9,265.1 L308.8,264.2 L308.7,263.3 L308.7,262.4 L308.6,261.5 L308.6,260.6 L308.5,259.7 L308.5,258.8 L308.4,257.9 L308.3,257.0 L308.3,256.1 L308.2,255.2 L308.1,254.2 L308.1,253.3 L308.0,252.4 L307.9,251.5 L307.8,250.6 L307.8,249.7 L307.7,248.8 L307.6,247.9 L307.5,247.0 L307.5,246.1 L307.4,245.2 L307.3,244.3 L307.2,243.4 L307.1,242.5 L307.0,241.6 L306.9,240.7 L306.8,239.8 L306.7,238.9 L306.6,238.0 L306.5,237.1 L306.4,236.2 L306.3,235.3 L306.2,234.4 L306.1,233.5 L306.0,232.6 L305.9,231.7 L305.8,230.8 L305.7,229.9 L305.6,228.9 L305.5,228.0 L305.4,227.1 L305.3,226.2 L305.2,225.3 L305.1,224.4 L305.0,223.5 L304.9,222.6 L304.7,221.7 L304.6,220.8 L304.5,219.9 L304.4,219.0 L304.3,218.1 L304.2,217.2 L304.1,216.3 L303.9,215.4 L303.8,214.5 L303.7,213.6 L303.6,212.7 L303.4,211.8 L303.3,210.9 L303.1,210.0 L303.0,209.1 L302.8,208.2 L302.7,207.3 L302.5,206.4 L302.4,205.6 L302.2,204.7 L302.0,203.8 L301.8,202.9 L301.7,202.0 L301.5,201.1 L301.3,200.2 L301.1,199.3 L300.9,198.4 L300.6,197.5 L300.4,196.7 L300.2,195.8 L300.0,194.9 L299.7,194.0 L299.5,193.2 L299.2,192.3 L298.9,191.4 L298.7,190.6 L298.4,189.7 L298.0,188.9 L297.7,188.0 L297.4,187.2 L297.1,186.3 L296.7,185.5 L296.3,184.6 L295.9,183.8 L295.5,183.0 L295.1,182.2 L294.6,181.4 L294.2,180.6 L293.8,179.8 L293.4,179.0 L293.0,178.2 L292.7,177.3 L292.3,176.5 L291.9,175.7 L291.4,174.9 L290.9,174.2 L290.3,173.5 L289.7,172.8 L289.2,172.1 L288.6,171.4 L288.1,170.6 L287.6,169.9 L287.1,169.1 L286.6,168.3 L286.1,167.6 L285.5,166.9 L284.8,166.3 L284.1,165.7 L283.4,165.1 L282.7,164.5 L282.0,163.9 L281.4,163.3 L280.8,162.6 L280.2,161.9 L279.6,161.2 L278.9,160.6 L278.2,160.0 L277.5,159.6 L276.7,159.1 L275.9,158.7 L275.1,158.2 L274.3,157.7 L273.6,157.2 L272.9,156.6 L272.1,156.1 L271.4,155.6 L270.6,155.2 L269.7,154.8 L268.9,154.4 L268.1,154.1 L267.2,153.8 L266.3,153.5 L265.5,153.3 L264.6,153.1 L263.7,153.0 L262.8,152.8 L261.9,152.7 L261.0,152.6 L260.1,152.6 L259.2,152.5 L258.2,152.4 L257.3,152.4 L256.4,152.4 L255.5,152.4 L254.6,152.4 L253.7,152.3 L252.8,152.3 L251.9,152.3 L251.0,152.3 L250.1,152.3 L249.2,152.3 L248.3,152.3 L247.4,152.3 L246.4,152.3 L245.5,152.3 L244.6,152.3 L243.7,152.2 L242.8,152.2 L241.9,152.2 L241.0,152.2 L240.1,152.2 L239.2,152.2 L238.3,152.2 L237.4,152.2 L236.4,152.1 L235.5,152.1 L234.6,152.1 L233.7,152.1 L232.8,152.0 L231.9,152.0 L231.0,152.0 L230.1,152.0 L229.2,151.9 L228.3,151.9 L227.4,151.9 L226.5,151.8 L225.6,151.8 L224.6,151.8 L223.7,151.8 L222.8,151.7 L221.9,151.7 L221.0,151.7 L220.1,151.7 L219.2,151.7 L218.3,151.6 L217.4,151.6 L216.5,151.6 L215.6,151.6 L214.7,151.6 L213.7,151.6 L212.8,151.6 L211.9,151.6 L211.0,151.6 L210.1,151.6 L209.2,151.6 L208.3,151.6 L207.4,151.6 L206.5,151.6 L205.6,151.6 L204.7,151.6 L203.8,151.6 L202.8,151.6 L201.9,151.6 L201.0,151.6 L200.1,151.6 L199.2,151.6 L198.3,151.6 L197.4,151.6 L196.5,151.6 L195.6,151.6 L194.7,151.6 L193.8,151.6 L192.9,151.6 L191.9,151.6 L191.0,151.6 L190.1,151.6 L189.2,151.6 L188.3,151.6 L187.4,151.6 L186.5,151.6 L185.6,151.6 L184.7,151.6 L183.8,151.6 L182.9,151.6 L182.0,151.7 L181.1,151.7 L180.1,151.7 L179.2,151.7 L178.3,151.7 L177.4,151.7 L176.5,151.8 L175.6,151.8 L174.7,151.8 L173.8,151.8 L172.9,151.8 L172.0,151.8 L171.1,151.9 L170.2,151.9 L169.2,151.9 L168.3,151.9 L167.4,151.9 L166.5,152.0 L165.6,152.0 L164.7,152.0 L163.8,152.0 L162.9,152.0 L162.0,152.1 L161.1,152.1 L160.2,152.1 L159.3,152.1 L158.3,152.2 L157.4,152.2 L156.5,152.2 L155.6,152.2 L154.7,152.3 L153.8,152.3 L152.9,152.3 L152.0,152.3 L151.1,152.4 L150.2,152.4 L149.3,152.4 L148.4,152.5 L147.5,152.5 L146.5,152.5 L145.6,152.6 L144.7,152.6 L143.8,152.6 L142.9,152.7 L142.0,152.7 L141.1,152.8 L140.2,152.8 L139.3,152.8 L138.4,152.9 L137.5,152.9 L136.6,153.0 L135.7,153.0 L134.7,153.1 L133.8,153.1 L132.9,153.2 L132.0,153.2 L131.1,153.3 L130.2,153.3 L129.3,153.4 L128.4,153.5 L127.5,153.5 L126.6,153.6 L125.7,153.7 L124.8,153.7 L123.9,153.8 L123.0,153.9 L122.1,154.0 L121.2,154.1 L120.3,154.1 L119.4,154.2 L118.5,154.3 L117.5,154.4 L116.6,154.5 L115.7,154.6 L114.8,154.7 L113.9,154.8 L113.0,154.9 L112.1,155.0 L111.2,155.1 L110.3,155.2 L109.4,155.3 L108.5,155.4 L107.6,155.5 L106.7,155.7 L105.8,155.8 L104.9,155.9 L104.0,156.0 L103.1,156.1 L102.2,156.2 L101.3,156.3 L100.4,156.4 L99.5,156.6 L98.6,156.7 L97.7,156.8 L96.8,156.9 L95.9,157.0 L95.0,157.1 L94.1,157.2 L93.2,157.3 L92.3,157.5 L91.4,157.6 L90.5,157.7 L89.6,157.8 L88.7,157.9 L87.8,158.0 L86.9,158.1 L86.0,158.2 L85.1,158.4 L84.2,158.5 L83.3,158.6 L82.4,158.7 L81.5,158.9 L80.6,159.0 L79.7,159.2 L78.8,159.3 L77.9,159.4 L77.0,159.6 L76.1,159.8 L75.2,159.9 L74.3,160.1 L73.4,160.2 L72.5,160.4 L71.6,160.6 L70.7,160.8 L69.8,161.0 L69.0,161.2 L68.1,161.4 L67.2,161.6 L66.3,161.9 L65.5,162.1 L64.6,162.4 L63.8,162.7 L62.9,163.0 L62.1,163.4 L61.2,163.7 L60.4,164.1 L59.6,164.5 L58.7,164.9 L57.9,165.3 L57.2,165.7 L56.4,166.2 L55.6,166.7 L54.8,167.1 L54.1,167.6 L53.3,168.1 L52.5,168.6 L51.8,169.2 L51.0,169.7 L50.2,170.2 L49.5,170.7 L48.8,171.2 L48.0,171.7 L47.3,172.3 L46.7,172.9 L46.0,173.5 L45.4,174.2 L44.8,174.9 L44.2,175.6Z" fill="rgba(255,102,51,0.4)"/>
<path d="M44.3,116.0 L44.9,116.7 L45.6,117.4 L46.3,118.0 L46.9,118.7 L47.6,119.3 L48.3,120.0 L49.0,120.6 L49.7,121.2 L50.5,121.7 L51.2,122.3 L51.9,122.9 L52.7,123.4 L53.5,123.9 L54.2,124.5 L55.0,125.0 L55.8,125.5 L56.6,125.9 L57.5,126.4 L58.3,126.8 L59.1,127.2 L60.0,127.6 L60.8,127.9 L61.7,128.3 L62.6,128.6 L63.4,128.9 L64.3,129.2 L65.2,129.5 L66.1,129.8 L67.0,130.0 L67.9,130.3 L68.8,130.5 L69.7,130.7 L70.6,130.9 L71.5,131.2 L72.4,131.4 L73.4,131.6 L74.3,131.8 L75.2,132.0 L76.1,132.2 L77.0,132.3 L77.9,132.5 L78.8,132.7 L79.8,132.9 L80.7,133.1 L81.6,133.3 L82.5,133.4 L83.4,133.6 L84.3,133.8 L85.3,134.0 L86.2,134.1 L87.1,134.3 L88.0,134.5 L88.9,134.6 L89.9,134.8 L90.8,134.9 L91.7,135.1 L92.6,135.2 L93.5,135.4 L94.5,135.5 L95.4,135.7 L96.3,135.8 L97.2,136.0 L98.1,136.1 L99.1,136.3 L100.0,136.4 L100.9,136.6 L101.8,136.7 L102.7,136.9 L103.7,137.0 L104.6,137.1 L105.5,137.3 L106.4,137.4 L107.4,137.5 L108.3,137.7 L109.2,137.8 L110.1,137.9 L111.1,138.1 L112.0,138.2 L112.9,138.3 L113.8,138.4 L114.8,138.6 L115.7,138.7 L116.6,138.8 L117.5,138.9 L118.5,139.0 L119.4,139.1 L120.3,139.3 L121.2,139.4 L122.2,139.5 L123.1,139.6 L124.0,139.7 L124.9,139.8 L125.9,139.9 L126.8,139.9 L127.7,140.0 L128.7,140.1 L129.6,140.2 L130.5,140.3 L131.4,140.3 L132.4,140.4 L133.3,140.5 L134.2,140.6 L135.2,140.6 L136.1,140.7 L137.0,140.8 L138.0,140.9 L138.9,140.9 L139.8,141.0 L140.7,141.1 L141.7,141.1 L142.6,141.2 L143.5,141.3 L144.5,141.4 L145.4,141.4 L146.3,141.5 L147.3,141.6 L148.2,141.6 L149.1,141.7 L150.0,141.8 L151.0,141.8 L151.9,141.9 L152.8,142.0 L153.8,142.0 L154.7,142.1 L155.6,142.2 L156.6,142.2 L157.5,142.3 L158.4,142.4 L159.4,142.4 L160.3,142.5 L161.2,142.5 L162.2,142.6 L163.1,142.6 L164.0,142.7 L164.9,142.7 L165.9,142.8 L166.8,142.8 L167.7,142.9 L168.7,142.9 L169.6,142.9 L170.5,143.0 L171.5,143.0 L172.4,143.1 L173.3,143.1 L174.3,143.2 L175.2,143.2 L176.1,143.2 L177.1,143.3 L178.0,143.3 L178.9,143.3 L179.9,143.4 L180.8,143.4 L181.7,143.4 L182.7,143.4 L183.6,143.5 L184.5,143.5 L185.5,143.5 L186.4,143.5 L187.3,143.5 L188.3,143.5 L189.2,143.5 L190.1,143.5 L191.0,143.5 L192.0,143.5 L192.9,143.5 L193.8,143.5 L194.8,143.5 L195.7,143.5 L196.6,143.5 L197.6,143.5 L198.5,143.5 L199.4,143.5 L200.4,143.5 L201.3,143.5 L202.2,143.5 L203.2,143.5 L204.1,143.5 L205.0,143.5 L206.0,143.5 L206.9,143.5 L207.8,143.5 L208.8,143.5 L209.7,143.5 L210.6,143.5 L211.6,143.5 L212.5,143.5 L213.4,143.5 L214.4,143.4 L215.3,143.4 L216.2,143.3 L217.2,143.3 L218.1,143.2 L219.0,143.2 L220.0,143.1 L220.9,143.0 L221.8,143.0 L222.7,142.9 L223.7,142.8 L224.6,142.8 L225.5,142.7 L226.5,142.6 L227.4,142.6 L228.3,142.5 L229.3,142.5 L230.2,142.4 L231.1,142.4 L232.1,142.3 L233.0,142.3 L233.9,142.2 L234.9,142.2 L235.8,142.1 L236.7,142.1 L237.7,142.0 L238.6,142.0 L239.5,141.9 L240.4,141.9 L241.4,141.8 L242.3,141.8 L243.2,141.7 L244.2,141.7 L245.1,141.7 L246.0,141.6 L247.0,141.6 L247.9,141.5 L248.8,141.5 L249.8,141.5 L250.7,141.4 L251.6,141.4 L252.6,141.3 L253.5,141.3 L254.4,141.2 L255.4,141.2 L256.3,141.1 L257.2,141.1 L258.1,141.0 L259.1,140.9 L260.0,140.9 L260.9,140.8 L261.9,140.7 L262.8,140.6 L263.7,140.5 L264.7,140.4 L265.6,140.3 L266.5,140.2 L267.5,140.1 L268.4,140.0 L269.3,139.9 L270.2,139.8 L271.1,139.6 L272.1,139.5 L273.0,139.3 L273.9,139.1 L274.8,138.9 L275.7,138.6 L276.6,138.4 L277.5,138.1 L278.4,137.9 L279.3,137.6 L280.2,137.3 L281.1,137.1 L282.0,136.8 L282.9,136.5 L283.7,136.1 L284.6,135.8 L285.5,135.4 L286.3,135.1 L287.1,134.6 L287.9,134.2 L288.7,133.7 L289.5,133.2 L290.3,132.6 L291.1,132.1 L291.8,131.5 L292.5,130.9 L293.2,130.3 L293.9,129.7 L294.6,129.0 L295.2,128.3 L295.8,127.6 L296.4,126.9 L296.9,126.1 L297.4,125.3 L297.9,124.5 L298.3,123.7 L298.7,122.8 L299.1,122.0 L299.5,121.1 L299.9,120.3 L300.2,119.4 L300.5,118.5 L300.8,117.6 L301.1,116.8 L301.4,115.9 L301.6,115.0 L301.8,114.1 L302.0,113.1 L302.2,112.2 L302.3,111.3 L302.5,110.4 L302.7,109.5 L302.8,108.5 L303.0,107.6 L303.2,106.7 L303.4,105.8 L303.5,104.9 L303.7,104.0 L303.8,103.0 L304.0,102.1 L304.1,101.2 L304.3,100.3 L304.4,99.3 L304.5,98.4 L304.7,97.5 L304.8,96.6 L304.9,95.7 L305.0,94.7 L305.2,93.8 L305.3,92.9 L305.4,91.9 L305.5,91.0 L305.6,90.1 L305.7,89.2 L305.8,88.2 L305.9,87.3 L306.0,86.4 L306.1,85.5 L306.2,84.5 L306.3,83.6 L306.4,82.7 L306.5,81.8 L306.6,80.8 L306.7,79.9 L306.8,79.0 L306.9,78.0 L306.9,77.1 L307.0,76.2 L307.1,75.2 L307.2,74.3 L307.2,73.4 L307.3,72.5 L307.4,71.5 L307.5,70.6 L307.5,69.7 L307.6,68.7 L307.7,67.8 L307.8,66.9 L307.8,65.9 L307.9,65.0 L308.0,64.1 L308.0,63.2 L308.1,62.2 L308.2,61.3 L308.3,60.4 L308.3,59.4 L308.4,58.5 L308.5,57.6 L308.5,56.6 L308.6,55.7 L308.7,54.8 L308.8,53.9 L308.9,52.9 L308.9,52.0 L309.0,51.1 L309.1,50.1 L309.2,49.2 L309.2,48.3 L309.3,47.3 L309.4,46.4 L309.5,45.5 L309.5,44.6 L309.6,43.6 L309.7,42.7 L309.8,41.8 L309.9,40.8 L309.9,39.9 L310.0,39.0 L310.1,38.1 L310.2,37.1 L310.2,36.2 L310.3,35.3 L310.4,34.3 L310.5,33.4 L310.6,32.5 L310.6,31.5 L310.7,30.6 L310.8,29.7 L310.9,28.8 L310.9,27.8 L311.0,26.9 L311.1,26.0 L311.2,25.0 L311.3,24.1 L311.3,23.2 L311.4,22.2 L311.5,21.3 L311.6,20.4 L311.6,19.5 L311.7,18.5 L311.8,17.6 L324.8,17.6 L324.8,274.2 L314.0,274.2 L313.9,273.3 L313.9,272.3 L313.8,271.4 L313.8,270.5 L313.7,269.5 L313.7,268.6 L313.6,267.6 L313.6,266.7 L313.5,265.8 L313.4,264.8 L313.4,263.9 L313.3,263.0 L313.3,262.0 L313.2,261.1 L313.2,260.1 L313.1,259.2 L313.0,258.3 L313.0,257.3 L312.9,256.4 L312.9,255.5 L312.8,254.5 L312.7,253.6 L312.7,252.6 L312.6,251.7 L312.6,250.8 L312.5,249.8 L312.4,248.9 L312.4,248.0 L312.3,247.0 L312.3,246.1 L312.2,245.1 L312.1,244.2 L312.1,243.3 L312.0,242.3 L312.0,241.4 L311.9,240.5 L311.9,239.5 L311.8,238.6 L311.7,237.6 L311.7,236.7 L311.6,235.8 L311.6,234.8 L311.5,233.9 L311.5,233.0 L311.4,232.0 L311.3,231.1 L311.3,230.1 L311.2,229.2 L311.2,228.3 L311.1,227.3 L311.0,226.4 L311.0,225.5 L310.9,224.5 L310.8,223.6 L310.8,222.6 L310.7,221.7 L310.6,220.8 L310.6,219.8 L310.5,218.9 L310.4,218.0 L310.4,217.0 L310.3,216.1 L310.2,215.2 L310.1,214.2 L310.0,213.3 L309.9,212.4 L309.9,211.4 L309.8,210.5 L309.7,209.6 L309.6,208.6 L309.5,207.7 L309.4,206.7 L309.3,205.8 L309.2,204.9 L309.1,203.9 L309.0,203.0 L308.8,202.1 L308.7,201.1 L308.6,200.2 L308.5,199.3 L308.4,198.3 L308.2,197.4 L308.1,196.5 L308.0,195.5 L307.8,194.6 L307.7,193.7 L307.6,192.8 L307.4,191.8 L307.3,190.9 L307.1,190.0 L306.9,189.0 L306.8,188.1 L306.6,187.2 L306.4,186.3 L306.3,185.4 L306.1,184.4 L305.9,183.5 L305.7,182.6 L305.4,181.7 L305.1,180.8 L304.9,179.9 L304.6,179.0 L304.4,178.1 L304.1,177.2 L303.8,176.3 L303.6,175.4 L303.3,174.5 L303.0,173.6 L302.7,172.7 L302.4,171.8 L302.1,170.9 L301.8,170.0 L301.5,169.2 L301.1,168.3 L300.8,167.4 L300.3,166.6 L299.9,165.8 L299.4,164.9 L298.9,164.1 L298.3,163.4 L297.7,162.7 L297.0,162.1 L296.3,161.5 L295.5,161.0 L294.7,160.5 L293.8,160.1 L293.0,159.6 L292.1,159.3 L291.3,158.9 L290.4,158.5 L289.5,158.2 L288.6,157.9 L287.7,157.6 L286.9,157.2 L286.0,156.9 L285.1,156.5 L284.2,156.2 L283.4,155.8 L282.5,155.4 L281.7,155.1 L280.8,154.7 L279.9,154.4 L279.0,154.1 L278.1,153.7 L277.3,153.4 L276.4,153.1 L275.5,152.8 L274.6,152.5 L273.7,152.3 L272.8,152.0 L271.9,151.8 L270.9,151.6 L270.0,151.5 L269.1,151.3 L268.2,151.2 L267.2,151.1 L266.3,150.9 L265.4,150.8 L264.4,150.7 L263.5,150.6 L262.6,150.5 L261.6,150.4 L260.7,150.3 L259.8,150.2 L258.8,150.2 L257.9,150.1 L256.9,150.0 L256.0,150.0 L255.1,149.9 L254.1,149.9 L253.2,149.8 L252.3,149.8 L251.3,149.7 L250.4,149.7 L249.4,149.6 L248.5,149.6 L247.6,149.6 L246.6,149.5 L245.7,149.5 L244.7,149.5 L243.8,149.4 L242.9,149.4 L241.9,149.4 L241.0,149.4 L240.1,149.4 L239.1,149.3 L238.2,149.3 L237.2,149.3 L236.3,149.3 L235.4,149.3 L234.4,149.3 L233.5,149.3 L232.5,149.2 L231.6,149.2 L230.7,149.2 L229.7,149.2 L228.8,149.2 L227.8,149.2 L226.9,149.2 L226.0,149.1 L225.0,149.1 L224.1,149.1 L223.2,149.1 L222.2,149.1 L221.3,149.1 L220.3,149.0 L219.4,149.0 L218.5,149.0 L217.5,149.0 L216.6,149.0 L215.6,149.0 L214.7,149.0 L213.8,148.9 L212.8,148.9 L211.9,148.9 L210.9,148.9 L210.0,148.9 L209.1,148.9 L208.1,148.9 L207.2,148.8 L206.3,148.8 L205.3,148.8 L204.4,148.8 L203.4,148.8 L202.5,148.8 L201.6,148.8 L200.6,148.7 L199.7,148.7 L198.7,148.7 L197.8,148.7 L196.9,148.7 L195.9,148.7 L195.0,148.7 L194.0,148.6 L193.1,148.6 L192.2,148.6 L191.2,148.6 L190.3,148.6 L189.4,148.6 L188.4,148.6 L187.5,148.6 L186.5,148.6 L185.6,148.6 L184.7,148.6 L183.7,148.6 L182.8,148.6 L181.8,148.6 L180.9,148.6 L180.0,148.6 L179.0,148.7 L178.1,148.7 L177.1,148.7 L176.2,148.7 L175.3,148.7 L174.3,148.7 L173.4,148.8 L172.4,148.8 L171.5,148.8 L170.6,148.8 L169.6,148.8 L168.7,148.9 L167.8,148.9 L166.8,148.9 L165.9,148.9 L164.9,148.9 L164.0,149.0 L163.1,149.0 L162.1,149.0 L161.2,149.1 L160.3,149.1 L159.3,149.2 L158.4,149.2 L157.4,149.3 L156.5,149.3 L155.6,149.4 L154.6,149.4 L153.7,149.5 L152.8,149.6 L151.8,149.6 L150.9,149.7 L149.9,149.8 L149.0,149.8 L148.1,149.9 L147.1,150.0 L146.2,150.0 L145.3,150.1 L144.3,150.2 L143.4,150.2 L142.4,150.3 L141.5,150.4 L140.6,150.5 L139.6,150.5 L138.7,150.6 L137.8,150.7 L136.8,150.7 L135.9,150.8 L135.0,150.9 L134.0,150.9 L133.1,151.0 L132.1,151.1 L131.2,151.2 L130.3,151.2 L129.3,151.3 L128.4,151.4 L127.5,151.5 L126.5,151.6 L125.6,151.7 L124.7,151.8 L123.7,151.9 L122.8,152.0 L121.9,152.1 L120.9,152.2 L120.0,152.3 L119.1,152.4 L118.1,152.6 L117.2,152.7 L116.3,152.8 L115.3,152.9 L114.4,153.1 L113.5,153.2 L112.6,153.3 L111.6,153.5 L110.7,153.6 L109.8,153.7 L108.8,153.8 L107.9,154.0 L107.0,154.1 L106.0,154.2 L105.1,154.4 L104.2,154.5 L103.3,154.6 L102.3,154.8 L101.4,154.9 L100.5,155.0 L99.5,155.2 L98.6,155.3 L97.7,155.5 L96.8,155.6 L95.8,155.7 L94.9,155.9 L94.0,156.0 L93.0,156.1 L92.1,156.3 L91.2,156.4 L90.2,156.5 L89.3,156.7 L88.4,156.8 L87.5,156.9 L86.5,157.1 L85.6,157.2 L84.7,157.4 L83.7,157.5 L82.8,157.6 L81.9,157.8 L81.0,158.0 L80.0,158.1 L79.1,158.3 L78.2,158.4 L77.3,158.6 L76.3,158.7 L75.4,158.9 L74.5,159.1 L73.5,159.3 L72.6,159.4 L71.7,159.6 L70.8,159.8 L69.9,160.0 L68.9,160.2 L68.0,160.4 L67.1,160.7 L66.2,160.9 L65.3,161.2 L64.4,161.4 L63.5,161.8 L62.7,162.1 L61.8,162.4 L60.9,162.8 L60.0,163.2 L59.2,163.5 L58.4,164.0 L57.6,164.4 L56.8,164.9 L56.0,165.4 L55.2,165.9 L54.4,166.5 L53.6,167.0 L52.9,167.6 L52.1,168.1 L51.4,168.7 L50.6,169.3 L49.9,169.8 L49.2,170.4 L48.4,171.0 L47.7,171.7 L47.0,172.3 L46.3,172.9 L45.6,173.6 L45.0,174.2 L44.3,174.9Z" fill="rgba(0,0,153,0.267)"/>
<path d="M44.3,145.4 L45.4,145.4 L46.4,145.4 L47.5,145.4 L48.5,145.4 L49.6,145.4 L50.7,145.4 L51.7,145.5 L52.8,145.5 L53.9,145.5 L54.9,145.5 L56.0,145.5 L57.0,145.5 L58.1,145.5 L59.2,145.5 L60.2,145.5 L61.3,145.5 L62.4,145.5 L63.4,145.5 L64.5,145.5 L65.5,145.6 L66.6,145.6 L67.7,145.6 L68.7,145.6 L69.8,145.6 L70.8,145.6 L71.9,145.6 L73.0,145.6 L74.0,145.6 L75.1,145.6 L76.2,145.6 L77.2,145.6 L78.3,145.6 L79.3,145.6 L80.4,145.7 L81.5,145.7 L82.5,145.7 L83.6,145.7 L84.6,145.7 L85.7,145.7 L86.8,145.7 L87.8,145.7 L88.9,145.7 L90.0,145.7 L91.0,145.7 L92.1,145.7 L93.1,145.7 L94.2,145.8 L95.3,145.8 L96.3,145.8 L97.4,145.8 L98.5,145.8 L99.5,145.8 L100.6,145.8 L101.6,145.8 L102.7,145.8 L103.8,145.8 L104.8,145.8 L105.9,145.8 L106.9,145.9 L108.0,145.9 L109.1,145.9 L110.1,145.9 L111.2,145.9 L112.3,145.9 L113.3,145.9 L114.4,145.9 L115.4,145.9 L116.5,145.9 L117.6,145.9 L118.6,146.0 L119.7,146.0 L120.8,146.0 L121.8,146.0 L122.9,146.0 L123.9,146.0 L125.0,146.0 L126.1,146.0 L127.1,146.0 L128.2,146.0 L129.2,146.0 L130.3,146.1 L131.4,146.1 L132.4,146.1 L133.5,146.1 L134.6,146.1 L135.6,146.1 L136.7,146.1 L137.7,146.1 L138.8,146.1 L139.9,146.1 L140.9,146.1 L142.0,146.1 L143.0,146.1 L144.1,146.1 L145.2,146.1 L146.2,146.1 L147.3,146.1 L148.4,146.1 L149.4,146.1 L150.5,146.1 L151.5,146.1 L152.6,146.1 L153.7,146.1 L154.7,146.1 L155.8,146.1 L156.9,146.2 L157.9,146.2 L159.0,146.2 L160.0,146.2 L161.1,146.2 L162.2,146.2 L163.2,146.2 L164.3,146.2 L165.3,146.2 L166.4,146.2 L167.5,146.2 L168.5,146.2 L169.6,146.2 L170.7,146.2 L171.7,146.2 L172.8,146.2 L173.8,146.2 L174.9,146.2 L176.0,146.2 L177.0,146.2 L178.1,146.2 L179.2,146.2 L180.2,146.2 L181.3,146.2 L182.3,146.2 L183.4,146.2 L184.5,146.2 L185.5,146.2 L186.6,146.2 L187.6,146.2 L188.7,146.2 L189.8,146.2 L190.8,146.2 L191.9,146.2 L193.0,146.2 L194.0,146.2 L195.1,146.2 L196.1,146.2 L197.2,146.2 L198.3,146.2 L199.3,146.2 L200.4,146.2 L201.4,146.2 L202.5,146.2 L203.6,146.2 L204.6,146.2 L205.7,146.2 L206.8,146.2 L207.8,146.2 L208.9,146.2 L209.9,146.2 L211.0,146.2 L212.1,146.2 L213.1,146.2 L214.2,146.2 L215.3,146.2 L216.3,146.2 L217.4,146.2 L218.4,146.2 L219.5,146.2 L220.6,146.2 L221.6,146.2 L222.7,146.2 L223.7,146.2 L224.8,146.2 L225.9,146.2 L226.9,146.2 L228.0,146.2 L229.1,146.2 L230.1,146.2 L231.2,146.2 L232.2,146.2 L233.3,146.2 L234.4,146.2 L235.4,146.2 L236.5,146.2 L237.6,146.2 L238.6,146.2 L239.7,146.2 L240.7,146.2 L241.8,146.2 L242.9,146.2 L243.9,146.2 L245.0,146.2 L246.0,146.2 L247.1,146.2 L248.2,146.2 L249.2,146.2 L250.3,146.2 L251.4,146.2 L252.4,146.2 L253.5,146.2 L254.5,146.1 L255.6,146.1 L256.7,146.1 L257.7,146.1 L258.8,146.1 L259.9,146.1 L260.9,146.1 L262.0,146.1 L263.0,146.1 L264.1,146.1 L265.2,146.1 L266.2,146.1 L267.3,146.0 L268.3,146.0 L269.4,146.0 L270.5,146.0 L271.5,146.0 L272.6,146.0 L273.7,146.0 L274.7,145.9 L275.8,145.9 L276.8,145.9 L277.9,145.9 L279.0,145.8 L280.0,145.8 L281.1,145.8 L282.2,145.7 L283.2,145.7 L284.3,145.6 L285.3,145.5 L286.4,145.5 L287.4,145.4 L288.5,145.2 L289.6,145.0 L290.6,144.8 L291.6,144.6 L292.7,144.4 L293.7,144.1 L294.7,143.8 L295.7,143.4 L296.7,142.9 L297.6,142.4 L298.5,141.9 L299.5,141.4 L300.4,140.8 L301.3,140.3 L302.1,139.6 L303.0,139.0 L303.8,138.3 L304.7,137.6 L305.5,136.9 L306.2,136.2 L306.9,135.4 L307.6,134.7 L308.3,133.8 L308.9,133.0 L309.6,132.1 L310.2,131.2 L310.7,130.3 L311.2,129.4 L311.8,128.5 L312.2,127.5 L312.7,126.6 L313.2,125.6 L313.6,124.6 L314.0,123.7 L314.4,122.7 L314.8,121.7 L315.2,120.7 L315.6,119.7 L316.0,118.7 L316.3,117.7 L316.7,116.7 L317.0,115.7 L317.3,114.7 L317.6,113.7 L317.9,112.6 L318.2,111.6 L318.5,110.6 L318.8,109.6 L319.0,108.5 L319.3,107.5 L319.5,106.5 L319.8,105.4 L320.0,104.4 L320.3,103.4 L320.5,102.3 L320.8,101.3 L321.0,100.3 L321.3,99.3 L321.6,98.2 L321.9,97.2 L322.1,96.2 L322.4,95.2 L322.7,94.1 L323.0,93.1 L323.3,92.1 L323.6,91.1 L323.9,90.1 L324.2,89.0 L324.5,88.0 L324.8,87.0" fill="none" stroke="#222" stroke-width="0.7" stroke-opacity="0.6"/>
<text x="179.3" y="9.9" font-size="11.36" text-anchor="middle">gluon PDF with projected direct photon production data</text>
<text transform="translate(9.8,64) rotate(-90)" font-size="12">g/g</text>
<text transform="translate(15.9,48.5) rotate(-90)" font-size="7.9">original</text>
<text x="38.5" y="31" font-size="10.1" text-anchor="end">1.3</text>
<text x="38.5" y="71" font-size="10.1" text-anchor="end">1.2</text>
<text x="38.5" y="111" font-size="10.1" text-anchor="end">1.1</text>
<text x="38.5" y="151" font-size="10.1" text-anchor="end">1</text>
<text x="38.5" y="191" font-size="10.5" text-anchor="end">0.9</text>
<text x="38.5" y="231" font-size="10.5" text-anchor="end">0.8</text>
<text x="38.5" y="271" font-size="10.5" text-anchor="end">0.7</text>
<text x="44.0" y="288.4" font-size="9.9" text-anchor="middle">10<tspan font-size="6.8" dx="-0.3" dy="-4.5" letter-spacing="-0.4" stroke="#000" stroke-width="0.2">−</tspan><tspan font-size="6.9" letter-spacing="0">5</tspan></text>
<text x="100.6" y="288.4" font-size="9.9" text-anchor="middle">10<tspan font-size="6.8" dx="-0.3" dy="-4.5" letter-spacing="-0.4" stroke="#000" stroke-width="0.2">−</tspan><tspan font-size="6.9" letter-spacing="0">4</tspan></text>
<text x="157.2" y="288.4" font-size="9.9" text-anchor="middle">10<tspan font-size="6.8" dx="-0.3" dy="-4.5" letter-spacing="-0.4" stroke="#000" stroke-width="0.2">−</tspan><tspan font-size="6.9" letter-spacing="0">3</tspan></text>
<text x="213.9" y="288.4" font-size="9.9" text-anchor="middle">10<tspan font-size="6.8" dx="-0.3" dy="-4.5" letter-spacing="-0.4" stroke="#000" stroke-width="0.2">−</tspan><tspan font-size="6.9" letter-spacing="0">2</tspan></text>
<text x="271.2" y="288.4" font-size="9.9" text-anchor="middle">10<tspan font-size="6.8" dx="-0.3" dy="-4.5" letter-spacing="-0.4" stroke="#000" stroke-width="0.2">−</tspan><tspan font-size="6.9" letter-spacing="0">1</tspan></text>
<text x="320.4" y="296.3" font-size="11.4">x</text>
<text x="93.5" y="35.8" font-size="8.65">Q = 100 GeV</text>
<rect x="81.9" y="207.1" width="10.1" height="10.4" fill="rgba(255,102,51,0.4)"/>
<rect x="81.9" y="222.2" width="10.1" height="10.4" fill="rgba(0,0,153,0.267)"/>
<path d="M81.9,212.3 h10.1 M81.9,227.5 h10.1" stroke="#222" stroke-width="0.7"/>
<text x="93.9" y="215.2" font-size="8.65">PDF4LHC15</text>
<text x="93.9" y="230.6" font-size="8.65">PDF4LHC15 + HLLHC E<tspan font-size="6.2" dx="-0.3" dy="2">T</tspan><tspan font-size="6.2" dx="-3.7" dy="-6.3">γ</tspan></text>
<text x="93.9" y="246.5" font-size="8.65">F = 0.2</text>
</g>
</svg>
</body></html>
